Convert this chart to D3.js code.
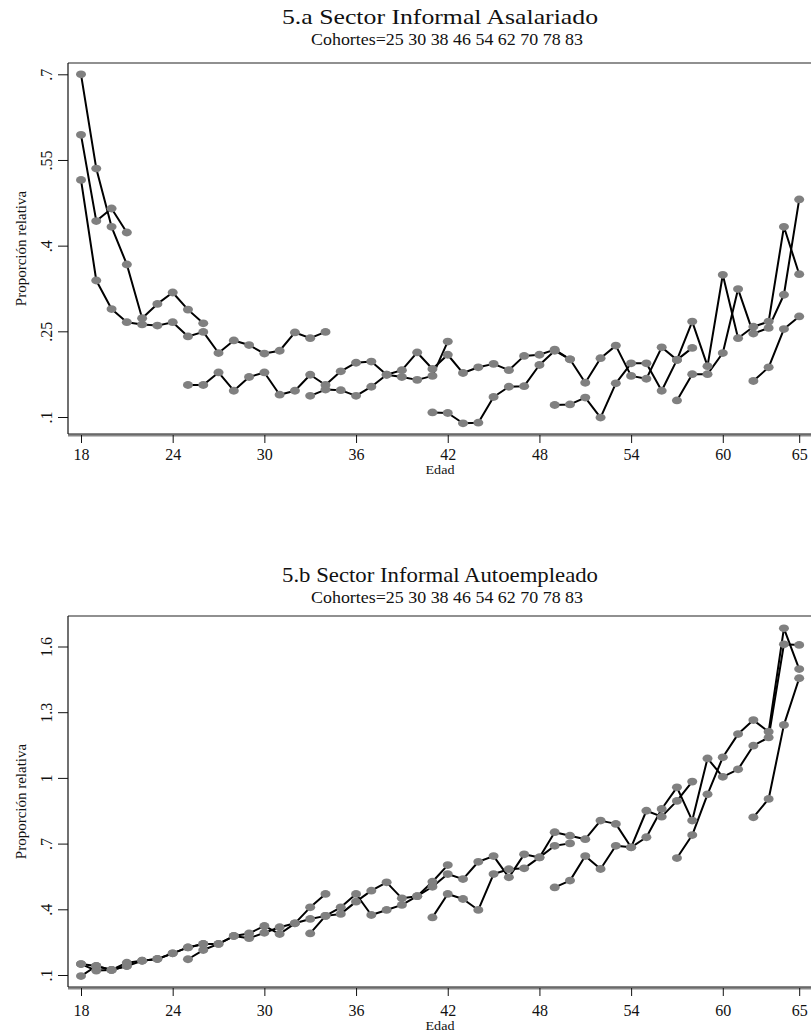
<!DOCTYPE html>
<html>
<head>
<meta charset="utf-8">
<script src="https://cdn.jsdelivr.net/npm/d3@7"></script>
<style>
  body { margin: 0; background: #fff; }
  svg { display: block; font-family: "Liberation Serif", "DejaVu Serif", serif; }
</style>
</head>
<body>
<div id="chart"></div>
<script>
// cohorts (birth year) and the first age at which each one is observed
const cohorts = ['25', '30', '38', '46', '54', '62', '70', '78', '83'];
const startAge = [62, 57, 49, 41, 33, 25, 18, 18, 18];

const xTicks = [18, 24, 30, 36, 42, 48, 54, 60, 65];
const yTicksA = [0.1, 0.25, 0.4, 0.55, 0.7];
const yTicksB = [0.1, 0.4, 0.7, 1, 1.3, 1.6];

// 5.a Sector Informal Asalariado, one array per cohort
const asal25 = [0.163, 0.187, 0.254, 0.276];
const asal30 = [0.129, 0.175, 0.175, 0.212, 0.324, 0.246, 0.256, 0.314, 0.481];
const asal38 = [0.121, 0.122, 0.134, 0.099, 0.159, 0.194, 0.194, 0.146, 0.2, 0.267, 0.189, 0.349, 0.238, 0.258, 0.267, 0.433, 0.35];
const asal46 = [0.108, 0.107, 0.089, 0.09, 0.135, 0.153, 0.154, 0.191, 0.216, 0.201, 0.16, 0.203, 0.225, 0.172, 0.167, 0.222, 0.2, 0.221];
const asal54 = [0.137, 0.148, 0.147, 0.137, 0.153, 0.174, 0.182, 0.213, 0.184, 0.209, 0.177, 0.187, 0.193, 0.182, 0.207, 0.209, 0.218, 0.201];
const asal62 = [0.156, 0.156, 0.178, 0.146, 0.17, 0.178, 0.139, 0.146, 0.174, 0.156, 0.18, 0.195, 0.197, 0.174, 0.17, 0.165, 0.172, 0.232];
const asal70 = [0.515, 0.339, 0.289, 0.266, 0.262, 0.26, 0.266, 0.241, 0.249, 0.212, 0.234, 0.226, 0.211, 0.216, 0.248, 0.238, 0.249];
const asal78 = [0.7, 0.535, 0.433, 0.367, 0.273, 0.298, 0.318, 0.288, 0.264];
const asal83 = [0.594, 0.443, 0.465, 0.423];

// 5.b Sector Informal Autoempleado
const auto25 = [0.82, 0.904, 1.242, 1.455];
const auto30 = [0.634, 0.739, 0.925, 1.094, 1.2, 1.264, 1.211, 1.683, 1.497];
const auto38 = [0.5, 0.531, 0.643, 0.584, 0.69, 0.683, 0.729, 0.858, 0.957, 0.805, 1.089, 1.005, 1.039, 1.147, 1.185, 1.61, 1.607];
const auto46 = [0.363, 0.47, 0.447, 0.397, 0.561, 0.583, 0.587, 0.637, 0.752, 0.736, 0.72, 0.805, 0.79, 0.683, 0.85, 0.823, 0.895, 0.983];
const auto54 = [0.29, 0.37, 0.379, 0.435, 0.485, 0.523, 0.45, 0.46, 0.503, 0.561, 0.538, 0.617, 0.643, 0.546, 0.651, 0.637, 0.69, 0.701];
const auto62 = [0.172, 0.214, 0.242, 0.278, 0.268, 0.293, 0.318, 0.336, 0.356, 0.37, 0.409, 0.47, 0.374, 0.397, 0.42, 0.46, 0.526, 0.602];
const auto70 = [0.15, 0.12, 0.123, 0.156, 0.165, 0.173, 0.199, 0.226, 0.242, 0.242, 0.278, 0.29, 0.324, 0.287, 0.336, 0.409, 0.47];
const auto78 = [0.095, 0.141, 0.123, 0.141, 0.165, 0.173, 0.199, 0.226, 0.242];
const auto83 = [0.15, 0.141, 0.123, 0.141];

const W = 811, H = 1035;
const svg = d3.select('#chart').append('svg').attr('width', W).attr('height', H);

const x = d3.scaleLinear([18, 65], [81, 799.2]);
const fmtY = d => String(+d.toFixed(2)).replace(/^0\./, '.');

function panel(top, title, values, yScale, yTicks, titleShift, labelShift) {
  const g = svg.append('g').attr('transform', `translate(0,${top})`);
  const left = 68, boxTop = 63, axisY = 434;

  g.append('text').attr('x', 440).attr('y', 24 + titleShift).attr('text-anchor', 'middle')
    .attr('font-size', 22).attr('textLength', 316).attr('lengthAdjust', 'spacingAndGlyphs')
    .attr('fill', '#111').text(title);
  g.append('text').attr('x', 447).attr('y', 45 + titleShift).attr('text-anchor', 'middle')
    .attr('font-size', 16).attr('textLength', 272).attr('lengthAdjust', 'spacingAndGlyphs')
    .attr('fill', '#111').text('Cohortes=' + cohorts.join(' '));

  // plot region frame
  g.append('line').attr('x1', left).attr('x2', W).attr('y1', boxTop).attr('y2', boxTop)
    .attr('stroke', '#222').attr('stroke-width', 1.2);
  g.append('line').attr('x1', left).attr('x2', left).attr('y1', boxTop).attr('y2', axisY)
    .attr('stroke', '#111').attr('stroke-width', 1.2);
  g.append('line').attr('x1', left).attr('x2', W).attr('y1', axisY + 1.5).attr('y2', axisY + 1.5)
    .attr('stroke', '#888').attr('stroke-width', 2);
  g.append('line').attr('x1', left).attr('x2', W).attr('y1', axisY).attr('y2', axisY)
    .attr('stroke', '#111').attr('stroke-width', 1.2);

  // x axis
  const xa = g.append('g').attr('transform', `translate(0,${axisY + 1})`)
    .call(d3.axisBottom(x).tickValues(xTicks).tickSize(8).tickPadding(6 + labelShift).tickFormat(d3.format('d')));
  xa.select('.domain').remove();
  xa.selectAll('line').attr('stroke', '#111');
  xa.selectAll('text').attr('font-size', 16).attr('font-family', '"Liberation Serif", serif').attr('fill', '#111');
  g.append('text').attr('x', 440).attr('y', axisY + 40 + labelShift).attr('text-anchor', 'middle')
    .attr('font-size', 13).attr('textLength', 29).attr('lengthAdjust', 'spacingAndGlyphs')
    .attr('fill', '#111').text('Edad');

  // y axis
  const ya = g.append('g').attr('transform', `translate(${left},0)`)
    .call(d3.axisLeft(yScale).tickValues(yTicks).tickSize(10).tickPadding(0).tickFormat(fmtY));
  ya.select('.domain').remove();
  ya.selectAll('line').attr('stroke', '#111');
  ya.selectAll('text').attr('font-size', 16).attr('font-family', '"Liberation Serif", serif')
    .attr('fill', '#111').attr('text-anchor', 'middle')
    .attr('transform', 'translate(-22,0) rotate(-90)').attr('x', 0).attr('dy', '0.35em');
  g.append('text').attr('transform', `translate(21,${(boxTop + axisY) / 2}) rotate(-90)`)
    .attr('text-anchor', 'middle').attr('dy', '0.35em').attr('font-size', 15)
    .attr('fill', '#111').text('Proporción relativa');

  const line = d3.line().x(d => x(d[0])).y(d => yScale(d[1]));
  const series = values.map((vals, i) => vals.map((v, j) => [startAge[i] + j, v]));

  g.append('g').selectAll('path').data(series).join('path')
    .attr('d', line).attr('fill', 'none').attr('stroke', '#000').attr('stroke-width', 2)
    .attr('stroke-linejoin', 'round');
  g.append('g').selectAll('g').data(series).join('g')
    .selectAll('ellipse').data(d => d).join('ellipse')
    .attr('cx', d => x(d[0])).attr('cy', d => yScale(d[1]))
    .attr('rx', 5).attr('ry', 3.9).attr('fill', '#808080');
}

panel(0, '5.a Sector Informal Asalariado',
  [asal25, asal30, asal38, asal46, asal54, asal62, asal70, asal78, asal83],
  d3.scaleLinear([0.1, 0.7], [417, 74.3]), yTicksA, 0, 0);

panel(553, '5.b Sector Informal Autoempleado',
  [auto25, auto30, auto38, auto46, auto54, auto62, auto70, auto78, auto83],
  d3.scaleLinear([0.1, 1.6], [422, 93.5]), yTicksB, 5, 3);
</script>
</body>
</html>
